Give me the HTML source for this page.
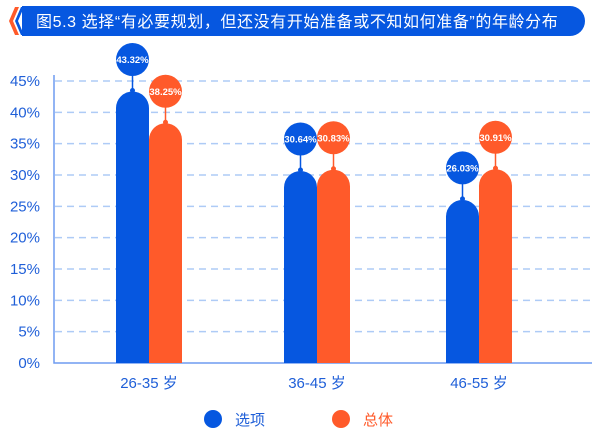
<!DOCTYPE html>
<html><head><meta charset="utf-8"><style>
body{margin:0;width:600px;height:434px;background:#fff;overflow:hidden}
svg{display:block;font-family:"Liberation Sans","Noto Sans CJK SC",sans-serif}
</style></head><body>
<svg width="600" height="434">
<g>
<path d="M15,7 L19,7 L13,21 L19,35 L15,35 L9,21 Z" fill="#ff5a2a"/>
<path d="M21,7 L24,7 L18,21 L24,35 L21,35 L15,21 Z" fill="#0657e0"/>
<rect x="22" y="6" width="563" height="30" rx="15" fill="#0657e0"/>
<rect x="22" y="6" width="20" height="30" fill="#0657e0"/>
<text x="36" y="27" font-size="16" letter-spacing="0.6" fill="#fff">图5.3  选择“有必要规划，但还没有开始准备或不知如何准备”的年龄分布</text>
</g>
<g id="grid"></g><g id="bars"></g>
<g>
<circle cx="213" cy="419" r="9" fill="#0657e0"/>
<text x="235" y="425" font-size="15" fill="#1f5fd8">选项</text>
<circle cx="341" cy="419" r="9" fill="#ff5a2a"/>
<text x="363" y="425" font-size="15" fill="#ff5a2a">总体</text>
</g>
</svg>
<script>
const categories=["26-35 岁","36-45 岁","46-55 岁"];
const optionValues=[43.32,30.64,26.03];
const totalValues=[38.25,30.83,30.91];
const yTicks=[0,5,10,15,20,25,30,35,40,45];
const NS="http://www.w3.org/2000/svg";
const y=v=>363-v*(282/45);
const groupCenters=[149,317,479];
const x=i=>groupCenters[i];
function mk(t,a,p){const e=document.createElementNS(NS,t);for(const k in a)e.setAttribute(k,a[k]);p.appendChild(e);return e;}
const g=document.getElementById('grid'),b=document.getElementById('bars');
yTicks.forEach(t=>{
 if(t>0){const l=mk('line',{x1:55,x2:592,y1:y(t),y2:y(t),stroke:'#aecbf6','stroke-width':1.5,'stroke-dasharray':'7,5'},g);
 
 }
 const tx=mk('text',{x:40,y:y(t)+5,'font-size':15,fill:'#1f5fd8','text-anchor':'end'},g);tx.textContent=t+'%';
 
 
});
const ax=mk('path',{d:'M54,75 L54,363 L592,363',fill:'none',stroke:'#6f9cf0','stroke-width':1.5},g);


const w=33,r=16.5;
function bar(cx,v,col,name){
 const top=y(v),bx=cx-w/2;
 const p=mk('path',{d:`M${bx},363 L${bx},${top+r} A${r},${r} 0 0 1 ${bx+w},${top+r} L${bx+w},363 Z`,fill:col},b);
 
 
 const by=top-32;
 mk('line',{x1:cx,x2:cx,y1:by,y2:top,stroke:col,'stroke-width':1.5},b);
 mk('circle',{cx:cx,cy:top-1,r:2.5,fill:col},b);
 const c=mk('circle',{cx:cx,cy:by,r:r,fill:col},b);
 
 
 const t=mk('text',{x:cx,y:by+3.5,'font-size':9.5,'font-weight':'bold',fill:'#fff','text-anchor':'middle'},b);t.textContent=v.toFixed(2)+'%';
 
 
}
categories.forEach((c,i)=>{
 bar(x(i)-w/2,optionValues[i],'#0657e0','bar-option-'+i);
 bar(x(i)+w/2,totalValues[i],'#ff5a2a','bar-total-'+i);
 const t=mk('text',{x:x(i),y:388,'font-size':15,fill:'#1f5fd8','text-anchor':'middle'},b);t.textContent=c;
 
 
});
</script>
</body></html>
